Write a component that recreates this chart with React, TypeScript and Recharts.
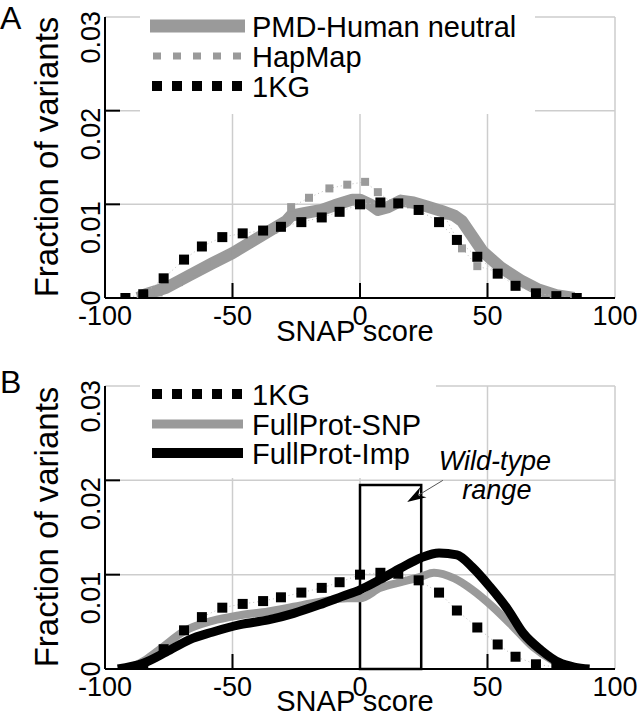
import React from "react";
import { LineChart, Line, XAxis, YAxis, CartesianGrid, ReferenceArea, ReferenceLine } from "recharts";

const xTicks = [-100, -50, 0, 50, 100];
const yTicks = [0, 0.01, 0.02, 0.03];

// Panel A
const pmdScores = [-87, -84, -76, -67, -58, -50, -42, -34, -29, -27, -21, -15, -10, -3, 0, 4, 7, 11, 16, 21, 26, 32, 37, 40, 44, 48, 55, 63, 70, 77, 84];
const pmdValues = [0, 0.0004, 0.0011, 0.0024, 0.0037, 0.0048, 0.0061, 0.0074, 0.0082, 0.0088, 0.0091, 0.0094, 0.0099, 0.0105, 0.0105, 0.01, 0.0094, 0.0097, 0.0104, 0.0102, 0.0098, 0.0093, 0.0088, 0.0082, 0.0066, 0.005, 0.0033, 0.0019, 0.0009, 0.0003, 0];

const hapmapScores = [-86, -79, -71, -64, -57, -49, -42, -34, -27, -20, -12, -5, 2, 7, 13, 20, 27, 33, 40, 46, 54, 61, 69, 76, 84];
const hapmapValues = [0.0002, 0.0006, 0.0017, 0.0028, 0.0038, 0.0049, 0.0061, 0.0073, 0.0097, 0.0107, 0.0117, 0.0121, 0.0124, 0.0113, 0.0101, 0.01, 0.0097, 0.0088, 0.0053, 0.0034, 0.0028, 0.0016, 0.0007, 0.0002, 0];

// 1KG (both panels)
const kgScores = [-92, -85, -77, -69, -62, -54, -46, -38, -31, -23, -15, -8, 0, 8, 15, 23, 31, 38, 46, 54, 61, 69, 77, 85];
const kgValues = [0, 0.0004, 0.0021, 0.0041, 0.0055, 0.0065, 0.0069, 0.0072, 0.0076, 0.0081, 0.0086, 0.0092, 0.01, 0.0102, 0.0101, 0.0094, 0.0081, 0.0062, 0.0044, 0.0026, 0.0013, 0.0005, 0.0002, 0];

// Panel B
const snpScores = [-94, -90, -84, -78, -69, -58, -47, -36, -26, -16, -5, 0, 8, 16, 24, 29, 37, 44, 52, 60, 68, 75, 81, 88];
const snpValues = [0, 0.0002, 0.001, 0.0022, 0.004, 0.0051, 0.0057, 0.0061, 0.0066, 0.0071, 0.0075, 0.0075, 0.0086, 0.0092, 0.0098, 0.0102, 0.0096, 0.0084, 0.0066, 0.0045, 0.0023, 0.001, 0.0002, 0];

const impScores = [-95, -85, -76, -67, -58, -47, -36, -26, -16, -7, 0, 8, 16, 24, 31, 38, 44, 51, 58, 64, 71, 78, 84, 90];
const impValues = [0, 0.0006, 0.0018, 0.0031, 0.0039, 0.0047, 0.0052, 0.0059, 0.0068, 0.0077, 0.0084, 0.0095, 0.0107, 0.0118, 0.0123, 0.0121, 0.0108, 0.0087, 0.0063, 0.0038, 0.002, 0.0007, 0.0002, 0];

const wildTypeRange = [0, 24];
const wildTypeTop = 0.0195;
const arrowFrom = { x: 32.5, y: 0.02 };
const arrowTo = { x: 18.5, y: 0.0177 };

const toPoints = (xs: number[], ys: number[]) => xs.map((x, i) => ({ x, v: ys[i] }));

const FONT = "'Liberation Sans', Arial, Helvetica, sans-serif";
const GRAY = "#9a9a9a";
const GRID = "#cdcdcd";
const frame = { stroke: "#000", strokeWidth: 2 };

const square = (size: number, fill: string) => (p: any) => (
  <rect key={`sq-${p.index}`} x={p.cx - size / 2} y={p.cy - size / 2} width={size} height={size} fill={fill} />
);

const inner = (v: number, lo: number, hi: number) => v > lo && v < hi;

const BottomTick = (p: any) => {
  const v = p.payload.value;
  return (
    <g>
      {inner(v, -100, 100) && <line x1={p.x} x2={p.x} y1={p.y} y2={p.y - 15} stroke="#000" strokeWidth={2} />}
      <text x={p.x} y={p.y + 27} textAnchor="middle" fontSize={27} fontFamily={FONT} fill="#000">
        {String(v)}
      </text>
    </g>
  );
};

const TopTick = (p: any) => {
  const v = p.payload.value;
  return inner(v, -100, 100) ? <line x1={p.x} x2={p.x} y1={p.y} y2={p.y + 14} stroke="#000" strokeWidth={2} /> : <g />;
};

const LeftTick = (p: any) => {
  const v = p.payload.value;
  const tx = p.x - 5;
  // zero sits centred on its tick; the others hang below their tick
  const ty = v === 0 ? p.y : v >= 0.03 ? p.y - 6 : p.y - 3;
  return (
    <g>
      {inner(v, 0, 0.03) && <line x1={p.x} x2={p.x + 15} y1={p.y} y2={p.y} stroke="#000" strokeWidth={2} />}
      <text x={tx} y={ty} transform={`rotate(-90, ${tx}, ${ty})`} textAnchor={v === 0 ? "middle" : "end"}
        fontSize={27} fontFamily={FONT} fill="#000">
        {v === 0 ? "0" : v.toFixed(2)}
      </text>
    </g>
  );
};

const RightTick = (p: any) => {
  const v = p.payload.value;
  return inner(v, 0, 0.03) ? <line x1={p.x} x2={p.x - 15} y1={p.y} y2={p.y} stroke="#000" strokeWidth={2} /> : <g />;
};

const ArrowShape = (p: any) => {
  const { x1, y1, x2, y2 } = p;
  const dx = x2 - x1;
  const dy = y2 - y1;
  const len = Math.sqrt(dx * dx + dy * dy) || 1;
  const ux = dx / len;
  const uy = dy / len;
  const nx = -uy;
  const ny = ux;
  const bx = x2 - 19 * ux;
  const by = y2 - 19 * uy;
  const mx = x2 - 13 * ux;
  const my = y2 - 13 * uy;
  const pts = `${x2},${y2} ${bx + 6 * nx},${by + 6 * ny} ${mx},${my} ${bx - 6 * nx},${by - 6 * ny}`;
  return (
    <g>
      <line x1={x1} y1={y1} x2={mx} y2={my} stroke="#555" strokeWidth={1} />
      <polygon points={pts} fill="#000" />
      <text x={x1 + 52} y={y1 - 10} textAnchor="middle" fontSize={27} fontStyle="italic" fontFamily={FONT} fill="#000">
        Wild-type
      </text>
      <text x={x1 + 54} y={y1 + 19} textAnchor="middle" fontSize={27} fontStyle="italic" fontFamily={FONT} fill="#000">
        range
      </text>
    </g>
  );
};

const Axes = (bottomHeight: number) => [
  <CartesianGrid key="g" stroke={GRID} strokeWidth={1.5} />,
  <XAxis key="xb" xAxisId={0} dataKey="x" type="number" domain={[-100, 100]} ticks={xTicks} allowDataOverflow
    height={bottomHeight} tickSize={0} tickMargin={0} tickLine={false} axisLine={frame} tick={BottomTick} interval={0} />,
  <XAxis key="xt" xAxisId="top" orientation="top" dataKey="x" type="number" domain={[-100, 100]} ticks={xTicks} allowDataOverflow
    height={0} tickSize={0} tickMargin={0} tickLine={false} axisLine={frame} tick={TopTick} interval={0} />,
  <YAxis key="yl" yAxisId={0} type="number" domain={[0, 0.03]} ticks={yTicks} allowDataOverflow width={105}
    tickSize={0} tickMargin={0} tickLine={false} axisLine={frame} tick={LeftTick} interval={0} />,
  <YAxis key="yr" yAxisId="right" orientation="right" type="number" domain={[0, 0.03]} ticks={yTicks} allowDataOverflow width={0}
    tickSize={0} tickMargin={0} tickLine={false} axisLine={frame} tick={RightTick} interval={0} />,
];

const ChartA = () => (
  <LineChart width={641} height={360} margin={{ top: 17, right: 26, bottom: 0, left: 0 }}>
    {Axes(62)}
    <Line data={toPoints(hapmapScores, hapmapValues)} dataKey="v" stroke="#bdbdbd" strokeWidth={1} strokeDasharray="1 3"
      dot={square(8, GRAY)} isAnimationActive={false} />
    <Line data={toPoints(pmdScores, pmdValues)} dataKey="v" stroke={GRAY} strokeWidth={12} strokeLinejoin="round"
      dot={false} isAnimationActive={false} />
    <Line data={toPoints(kgScores, kgValues)} dataKey="v" stroke="#bdbdbd" strokeWidth={1} strokeDasharray="1 3"
      dot={square(10, "#000")} isAnimationActive={false} />
  </LineChart>
);

const ChartB = () => (
  <LineChart width={641} height={360} margin={{ top: 29, right: 26, bottom: 0, left: 0 }}>
    {Axes(48)}
    <Line data={toPoints(kgScores, kgValues)} dataKey="v" stroke="#bdbdbd" strokeWidth={1} strokeDasharray="1 3"
      dot={square(10, "#000")} isAnimationActive={false} />
    <Line data={toPoints(snpScores, snpValues)} dataKey="v" type="monotone" stroke={GRAY} strokeWidth={8}
      dot={false} isAnimationActive={false} />
    <Line data={toPoints(impScores, impValues)} dataKey="v" type="monotone" stroke="#000" strokeWidth={9}
      dot={false} isAnimationActive={false} />
    <ReferenceArea x1={wildTypeRange[0]} x2={wildTypeRange[1]} y1={0} y2={wildTypeTop} fill="none" fillOpacity={0}
      stroke="#000" strokeWidth={2.5} ifOverflow="visible" />
    <ReferenceLine segment={[arrowFrom, arrowTo]} shape={ArrowShape} ifOverflow="visible" />
  </LineChart>
);

const squares = (x0: number, y: number, w: number, h: number, fill: string) =>
  [0, 1, 2, 3, 4].map((i) => <rect key={i} x={x0 + 20 * i} y={y - h / 2} width={w} height={h} fill={fill} />);

const legendText = (y: number, label: string) => (
  <text x={252} y={y} fontSize={29} fontFamily={FONT} fill="#000">{label}</text>
);

const Overlay = () => (
  <svg width={641} height={717} style={{ position: "absolute", left: 0, top: 0, pointerEvents: "none" }}>
    {/* panel A legend */}
    <rect x={140} y={0} width={395} height={114} fill="#fff" />
    <line x1={150} x2={245} y1={26} y2={26} stroke={GRAY} strokeWidth={13} />
    {legendText(37, "PMD-Human neutral")}
    {squares(153, 56, 8, 7, GRAY)}
    {legendText(67, "HapMap")}
    {squares(152, 86, 10, 10, "#000")}
    {legendText(97, "1KG")}

    {/* panel B legend */}
    <rect x={140} y={357} width={296} height={121} fill="#fff" />
    {squares(152, 394, 10, 10, "#000")}
    {legendText(405, "1KG")}
    <line x1={152} x2={243} y1={424} y2={424} stroke={GRAY} strokeWidth={9} />
    {legendText(435, "FullProt-SNP")}
    <line x1={152} x2={243} y1={453} y2={453} stroke="#000" strokeWidth={10} />
    {legendText(464, "FullProt-Imp")}

    {/* panel letters and axis titles */}
    <text x={0} y={29} fontSize={32} fontFamily={FONT}>A</text>
    <text x={0} y={393} fontSize={32} fontFamily={FONT}>B</text>
    <text x={58} y={157} transform="rotate(-90, 58, 157)" textAnchor="middle" fontSize={33} fontFamily={FONT}>Fraction of variants</text>
    <text x={58} y={527} transform="rotate(-90, 58, 527)" textAnchor="middle" fontSize={33} fontFamily={FONT}>Fraction of variants</text>
    <text x={355} y={341} textAnchor="middle" fontSize={29} fontFamily={FONT}>SNAP score</text>
    <text x={355} y={711} textAnchor="middle" fontSize={29} fontFamily={FONT}>SNAP score</text>
  </svg>
);

export default function App() {
  return (
    <div style={{ position: "absolute", left: 0, top: 0, width: 641, height: 717, background: "#fff", overflow: "hidden" }}>
      <div style={{ position: "absolute", left: 0, top: 0 }}>
        <ChartA />
      </div>
      <div style={{ position: "absolute", left: 0, top: 357 }}>
        <ChartB />
      </div>
      <Overlay />
    </div>
  );
}
